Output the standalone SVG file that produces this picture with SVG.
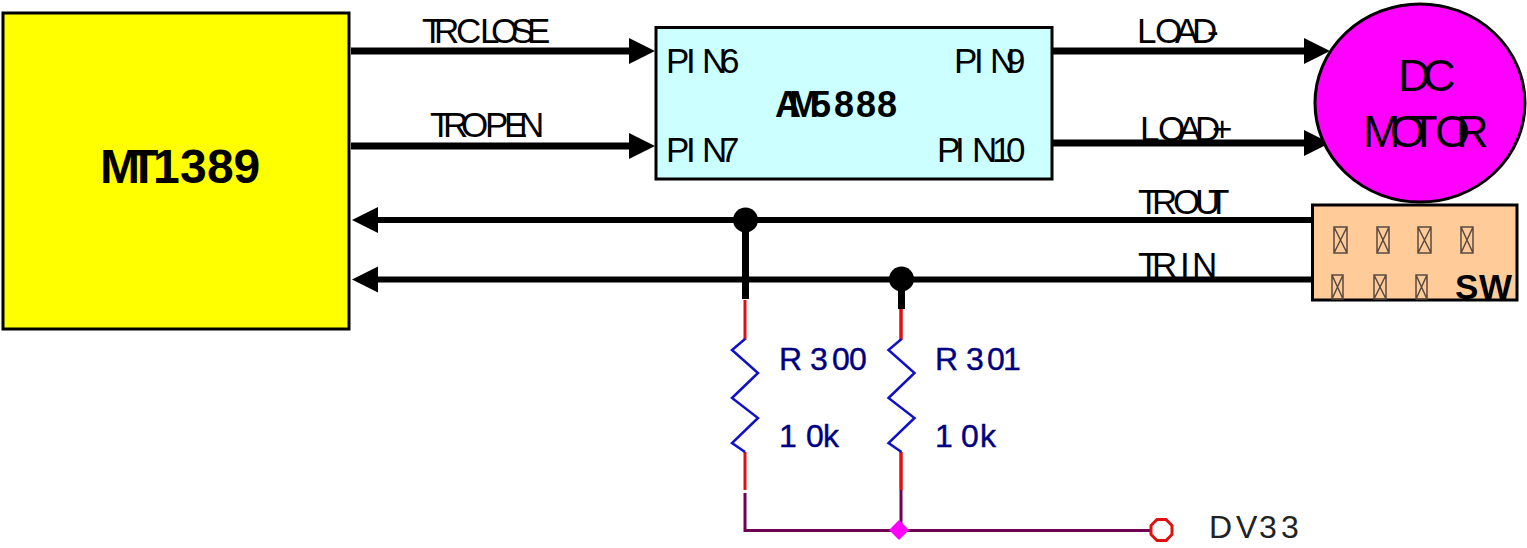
<svg xmlns="http://www.w3.org/2000/svg" width="1527" height="548" viewBox="0 0 1527 548">
<style>
text{font-family:"Liberation Sans",Arial,sans-serif;fill:#000}
.l,.pin{font-size:35px}
.blue{font-size:32px;fill:#000080;stroke:#000080;stroke-width:.4}
.box{stroke:#000;stroke-width:3}
.w{fill:none;stroke:#000;stroke-width:6}
.t{fill:none;stroke:#000;stroke-width:7}
.red{fill:none;stroke:#e01010;stroke-width:3}
.pur{fill:none;stroke:#700050;stroke-width:3}
.res{fill:none;stroke:#1010c8;stroke-width:2.500}
.sq{fill:none;stroke:#5a4a40;stroke-width:1.500}
</style>
<defs>
<marker id="ar" markerUnits="userSpaceOnUse" markerWidth="28" markerHeight="28" refX="18" refY="13" orient="auto-start-reverse"><path d="M0 0L26 13L0 26Z" fill="#000"/></marker>
</defs>
<rect width="1527" height="548" fill="#fff"/>
<g id="connectors">
<path class="t" d="M351 51H647" marker-end="url(#ar)"/>
<path class="t" d="M351 146H647" marker-end="url(#ar)"/>
<path class="t" d="M1053 51H1322" marker-end="url(#ar)"/>
<path class="t" d="M1053 143H1322" marker-end="url(#ar)"/>
<path class="w" d="M1312 220H360" marker-end="url(#ar)"/>
<path class="w" d="M1312 279.500H360" marker-end="url(#ar)"/>
<path class="t" d="M745.500 220V299"/>
<path class="t" d="M901.500 279V309"/>
<path class="red" d="M745 300V340M745 452V490"/>
<path class="red" style="stroke-width:3.500" d="M901 309V340M901 452V490"/>
<path class="pur" d="M745 493V530.500H1150M901 490V530"/>
<path class="res" d="M745 339L732 350L758 373L732 398L758 418L732 443L745 452"/>
<path class="res" d="M901.500 339L888.500 350L914.500 373L888.500 398L914.500 418L888.500 443L901.500 452"/>
<circle cx="745.500" cy="220" r="12.500" fill="#000"/>
<circle cx="901.500" cy="279" r="12.500" fill="#000"/>
<path d="M899 520L909 530L899 540L889 530Z" fill="#ff00ff"/>
<path d="M1157 519.500H1166L1172 525.500V534.500L1166 540.500H1157L1151 534.500V525.500Z" fill="#fff" stroke="#e01010" stroke-width="3"/>
</g>
<g id="mt1389">
<rect class="box" x="3" y="13" width="346" height="316" fill="#ffff00"/>
<text style="font-size:48px;font-weight:bold" x="100 129 153 180 207 233.500" y="183">MT1389</text>
</g>
<g id="am5888">
<rect class="box" x="656" y="27.500" width="396" height="151.500" fill="#ccffff"/>
<text class="pin" x="666 686 695 702 720" y="73">PI N6</text>
<text class="pin" x="666 686 695 702 720" y="162">PI N7</text>
<text class="pin" x="954 974 983 990 1006" y="73">PI N9</text>
<text class="pin" x="937 955 964 972 992 1006" y="162">PI N10</text>
<text style="font-size:36px;font-weight:bold" x="775 789 811 834 856 877" y="117">AM5888</text>
</g>
<g id="motor">
<ellipse cx="1420" cy="103" rx="105" ry="99" fill="#ff00ff" stroke="#000" stroke-width="3"/>
<text style="font-size:45px" x="1398 1423" y="91">DC</text>
<text style="font-size:45px" x="1363 1390 1410 1435 1456" y="147">MOTOR</text>
</g>
<g id="sw">
<rect class="box" x="1312.500" y="205" width="204.500" height="95" fill="#ffcc99"/>
<g id="sw-contacts" class="sq">
<path d="M1334 227h13v26h-13zM1334 227l13 26M1347 227l-13 26"/>
<path d="M1377 227h12v26h-12zM1377 227l12 26M1389 227l-12 26"/>
<path d="M1418 227h13v26h-13zM1418 227l13 26M1431 227l-13 26"/>
<path d="M1461 227h12v26h-12zM1461 227l12 26M1473 227l-12 26"/>
<path d="M1332 275h11v24h-11zM1332 275l11 24M1343 275l-11 24"/>
<path d="M1374 275h12v24h-12zM1374 275l12 24M1386 275l-12 24"/>
<path d="M1416 275h11v24h-11zM1416 275l11 24M1427 275l-11 24"/>
</g>
<text style="font-size:35px;font-weight:bold" x="1455 1479" y="298.500">SW</text>
</g>
<g id="labels">
<text class="l" x="422 434 456 480 491 511 527" y="43">TRCLOSE</text>
<text class="l" x="430 443 461 485 504 519" y="137">TROPEN</text>
<text class="l" x="1137 1155 1175 1192 1207" y="43">LOAD-</text>
<text class="l" x="1140 1158 1178 1195 1212" y="141">LOAD+</text>
<text class="l" x="1138 1152 1173 1195 1208" y="214">TROUT</text>
<text class="l" x="1138 1152 1180 1186 1192" y="277">TRI N</text>
<text class="blue" x="779 810 832 849" y="370">R300</text>
<text class="blue" x="935 966 987 1003" y="370">R301</text>
<text class="blue" x="779 806 823" y="447">10k</text>
<text class="blue" x="935 961 980" y="447">10k</text>
<text style="font-size:32px;fill:#222" x="1209 1236 1259 1281" y="538">DV33</text>
</g>
</svg>
